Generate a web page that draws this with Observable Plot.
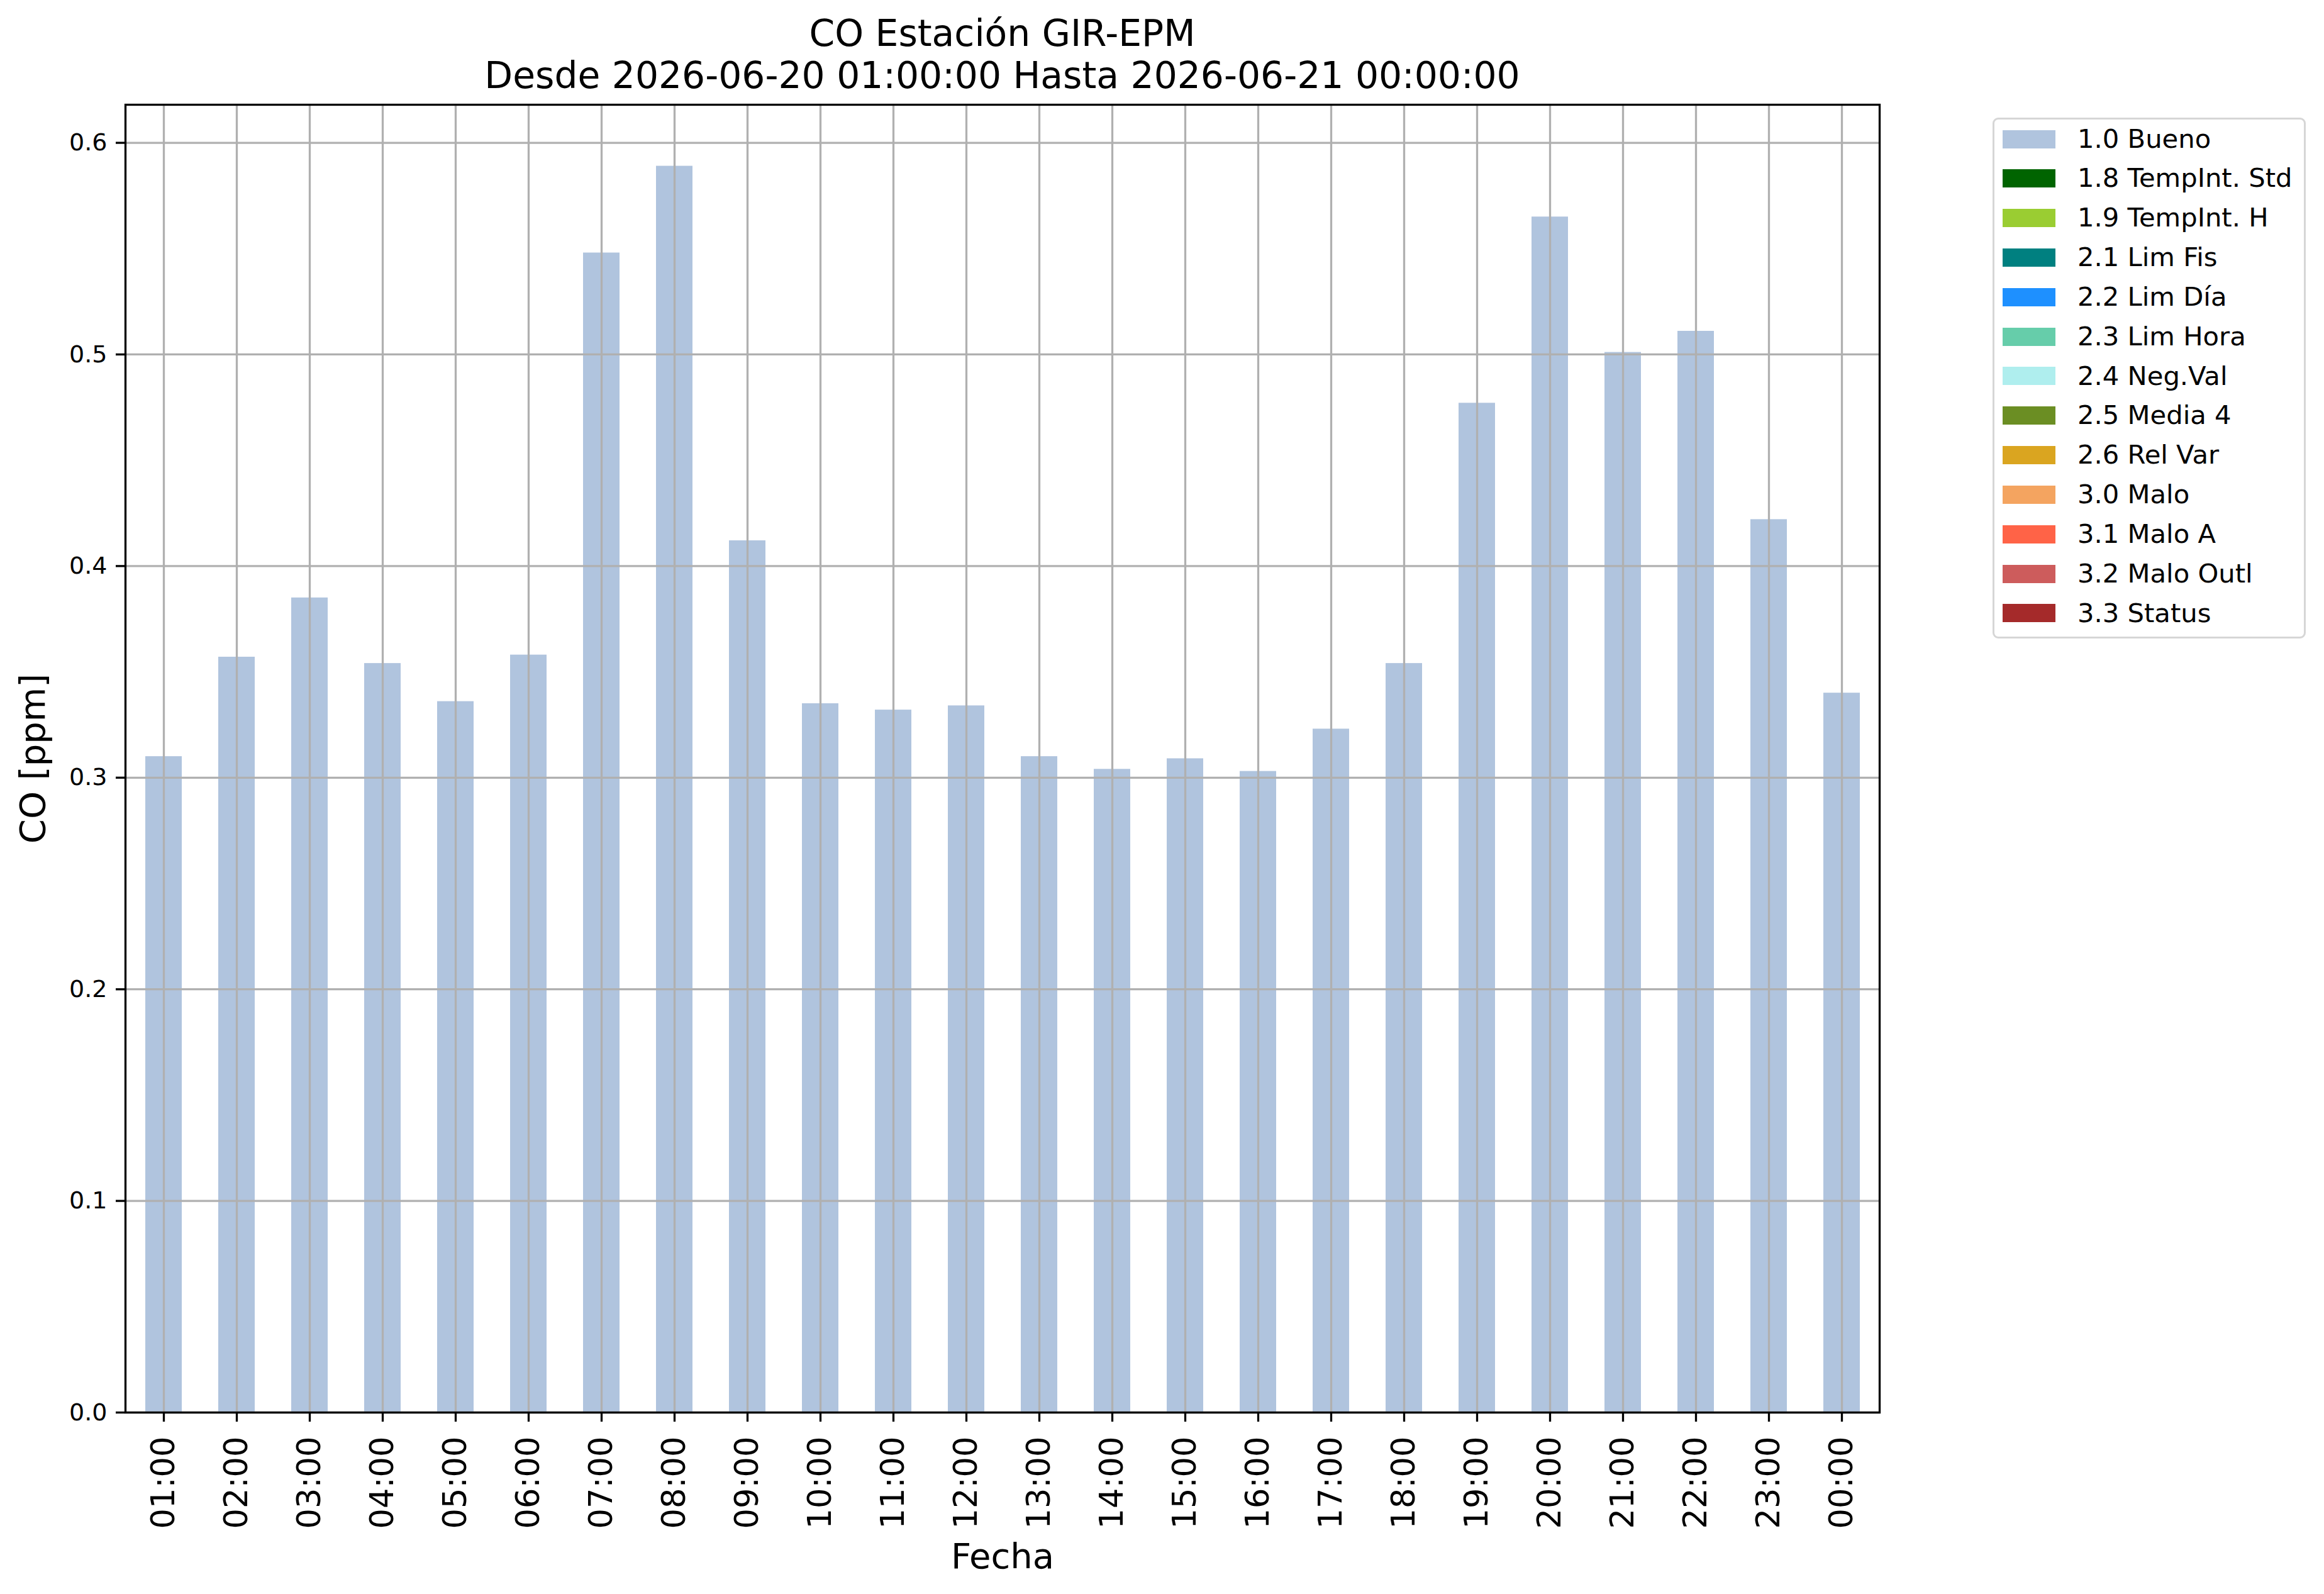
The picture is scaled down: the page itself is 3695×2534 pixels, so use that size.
<!DOCTYPE html>
<html>
<head>
<meta charset="utf-8">
<script src="https://cdn.jsdelivr.net/npm/d3@7"></script>
<script src="https://cdn.jsdelivr.net/npm/@observablehq/plot@0.6"></script>
<style>
  html, body { margin: 0; padding: 0; background: #fff; }
  body { width: 3695px; height: 2534px; position: relative; overflow: hidden; font-family: "DejaVu Sans", sans-serif; color: #000; }
  #title { width: 3187px; padding-top: 20px; text-align: center; font-size: 58.3px; line-height: 67px; height: 134px; white-space: nowrap; }
  #chart svg { display: block; }
  #legend { position: absolute; left: 3168px; top: 187px; width: 498px; height: 828px; box-sizing: border-box; border: 3px solid #d6d6d6; border-radius: 9px; background: #fff; }
  .item { position: absolute; left: 0; height: 62.8px; width: 480px; }
  .sw { position: absolute; left: 13px; top: 16.9px; width: 84px; height: 29px; }
  .lb { position: absolute; left: 132px; top: 0; line-height: 62.8px; font-size: 41.7px; white-space: nowrap; }
</style>
</head>
<body>
<div id="title">CO Estación GIR-EPM<br>Desde 2026-06-20 01:00:00 Hasta 2026-06-21 00:00:00</div>
<div id="chart"></div>
<div id="legend"></div>
<script>
const hours = ["01:00","02:00","03:00","04:00","05:00","06:00","07:00","08:00","09:00","10:00","11:00","12:00",
               "13:00","14:00","15:00","16:00","17:00","18:00","19:00","20:00","21:00","22:00","23:00","00:00"];
const coValues = [0.310, 0.357, 0.385, 0.354, 0.336, 0.358, 0.548, 0.589, 0.412, 0.335, 0.332, 0.334,
                  0.310, 0.304, 0.309, 0.303, 0.323, 0.354, 0.477, 0.565, 0.501, 0.511, 0.422, 0.340];
const yTicks = [0.0, 0.1, 0.2, 0.3, 0.4, 0.5, 0.6];
const legendLabels = ["1.0 Bueno","1.8 TempInt. Std","1.9 TempInt. H","2.1 Lim Fis","2.2 Lim Día","2.3 Lim Hora",
                      "2.4 Neg.Val","2.5 Media 4","2.6 Rel Var","3.0 Malo","3.1 Malo A","3.2 Malo Outl","3.3 Status"];
const legendColors = ["#b0c4de","#006400","#9acd32","#008080","#1e90ff","#66cdaa",
                      "#afeeee","#6b8e23","#daa520","#f4a460","#ff6347","#cd5c5c","#a52a2a"];
const title = "CO Estación GIR-EPM";
const yLabel = "CO [ppm]";
const xLabel = "Fecha";

const rows = hours.map((h, i) => ({hour: h, value: coValues[i]}));

const topOffset = 154;
const W = 3695, H = 2534 - topOffset;
const mTop = 166 - topOffset, mLeft = 199, mRight = W - 2988, mBottom = 2534 - 2245;
const lw = 3.3;

const chart = Plot.plot({
  width: W,
  height: H,
  marginTop: mTop,
  marginLeft: mLeft,
  marginRight: mRight,
  marginBottom: mBottom,
  style: {fontFamily: "DejaVu Sans", color: "#000", background: "#fff", overflow: "visible"},
  x: {type: "band", domain: hours, paddingInner: 0.5, paddingOuter: 0.25, label: null},
  y: {domain: [0, 0.618], label: null},
  marks: [
    Plot.barY(rows, {x: "hour", y: "value", fill: legendColors[0]}),
    Plot.gridX({stroke: "#b0b0b0", strokeOpacity: 1, strokeWidth: lw}),
    Plot.gridY(yTicks, {stroke: "#b0b0b0", strokeOpacity: 1, strokeWidth: lw}),
    Plot.frame({stroke: "#000", strokeWidth: lw}),
    Plot.axisY(yTicks, {tickSize: 15, tickPadding: 14, strokeWidth: lw, fontSize: 38, tickFormat: d3.format(".1f"), label: null}),
    Plot.axisX({tickSize: 15, tickPadding: 23, strokeWidth: lw, fontSize: 51, tickRotate: -90, label: null}),
    Plot.text([yLabel], {frameAnchor: "left", dx: -146, rotate: -90, fontSize: 56, textAnchor: "middle", lineAnchor: "middle"}),
    Plot.text([xLabel], {frameAnchor: "bottom", dy: 247, fontSize: 56, textAnchor: "middle", lineAnchor: "bottom"})
  ]
});
document.getElementById("chart").appendChild(chart);

const legend = document.getElementById("legend");
legendLabels.forEach((lab, i) => {
  const item = document.createElement("div");
  item.className = "item";
  item.style.top = (31 - 31.4 + i * 62.83) + "px";
  const sw = document.createElement("div");
  sw.className = "sw";
  sw.style.background = legendColors[i];
  const lb = document.createElement("div");
  lb.className = "lb";
  lb.textContent = lab;
  item.appendChild(sw);
  item.appendChild(lb);
  legend.appendChild(item);
});
</script>
</body>
</html>
